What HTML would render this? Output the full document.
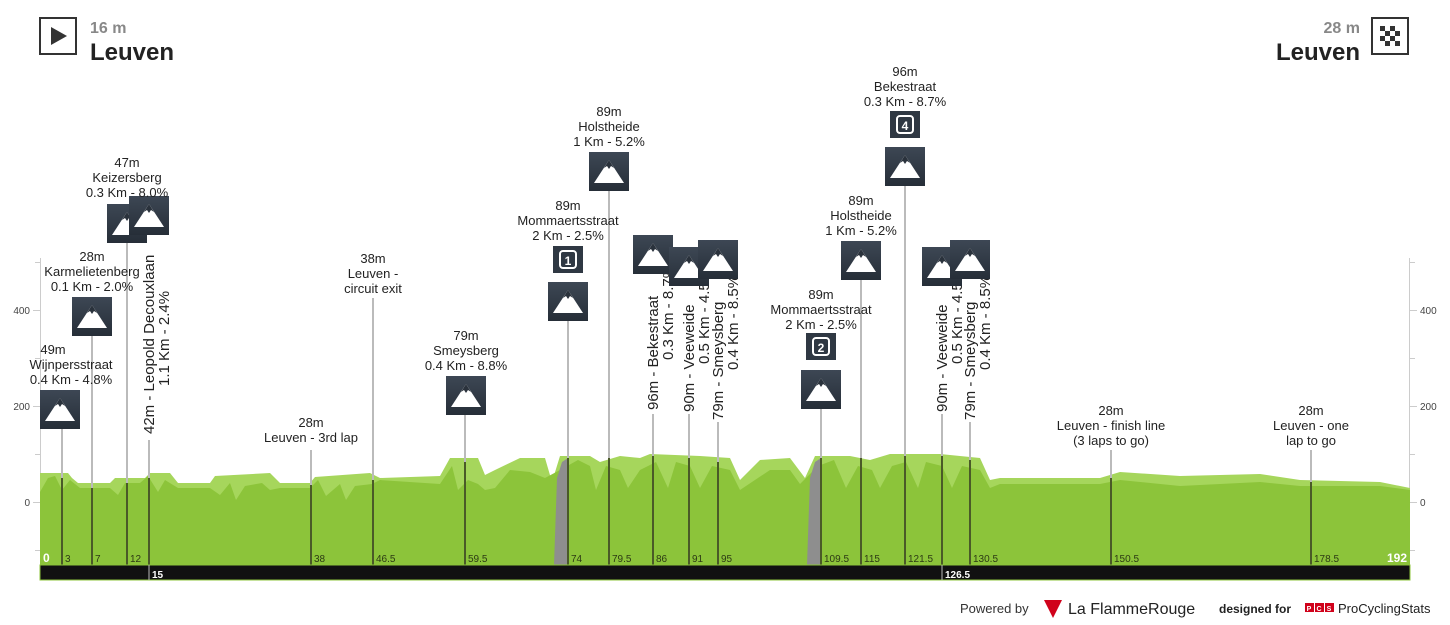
<!DOCTYPE html>
<html><head><meta charset="utf-8"><style>
body{margin:0;background:#fff;}
svg{display:block;font-family:"Liberation Sans",sans-serif;}
</style></head><body>
<svg width="1450" height="625" viewBox="0 0 1450 625" xmlns="http://www.w3.org/2000/svg">
<defs>
<linearGradient id="ig" x1="0" y1="0" x2="0" y2="1"><stop offset="0" stop-color="#3d4754"/><stop offset="1" stop-color="#262e38"/></linearGradient>
<g id="ic"><rect x="-20" y="0" width="40" height="39" fill="url(#ig)"/><path d="M0 8 L15 31 L-15 31 Z" fill="#fff"/><path d="M0 8 L5 16 L2 14 L0 17 L-2 14 L-5 16 Z" fill="#2a323c"/></g>
</defs>
<!-- header -->
<rect x="40" y="18" width="36" height="36" fill="#fff" stroke="#333" stroke-width="2"/>
<path d="M51 27 L67 36 L51 45 Z" fill="#333"/>
<text x="90" y="33" font-size="16" font-weight="bold" fill="#888">16 m</text>
<text x="90" y="60" font-size="24" font-weight="bold" fill="#222">Leuven</text>
<rect x="1372" y="18" width="36" height="36" fill="#fff" stroke="#333" stroke-width="2"/>
<g fill="#333"><rect x="1380" y="26" width="5" height="5"/><rect x="1390" y="26" width="5" height="5"/><rect x="1385" y="31" width="5" height="5"/><rect x="1395" y="31" width="5" height="5"/><rect x="1380" y="36" width="5" height="5"/><rect x="1390" y="36" width="5" height="5"/><rect x="1385" y="41" width="5" height="5"/><rect x="1395" y="41" width="5" height="5"/></g>
<text x="1360" y="33" font-size="16" font-weight="bold" fill="#888" text-anchor="end">28 m</text>
<text x="1360" y="60" font-size="24" font-weight="bold" fill="#222" text-anchor="end">Leuven</text>
<!-- axes -->
<g stroke="#ccc" stroke-width="1">
<line x1="40.5" y1="258" x2="40.5" y2="565"/><line x1="1409.5" y1="258" x2="1409.5" y2="565"/>
<line x1="33" y1="310.5" x2="40" y2="310.5"/><line x1="33" y1="406.5" x2="40" y2="406.5"/><line x1="33" y1="502.5" x2="40" y2="502.5"/>
<line x1="35" y1="262.5" x2="40" y2="262.5"/><line x1="35" y1="358.5" x2="40" y2="358.5"/><line x1="35" y1="454.5" x2="40" y2="454.5"/><line x1="35" y1="550.5" x2="40" y2="550.5"/>
<line x1="1410" y1="310.5" x2="1417" y2="310.5"/><line x1="1410" y1="406.5" x2="1417" y2="406.5"/><line x1="1410" y1="502.5" x2="1417" y2="502.5"/>
<line x1="1410" y1="262.5" x2="1415" y2="262.5"/><line x1="1410" y1="358.5" x2="1415" y2="358.5"/><line x1="1410" y1="454.5" x2="1415" y2="454.5"/><line x1="1410" y1="550.5" x2="1415" y2="550.5"/>
</g>
<g font-size="10" fill="#444">
<text x="30" y="314" text-anchor="end">400</text><text x="30" y="410" text-anchor="end">200</text><text x="30" y="506" text-anchor="end">0</text>
<text x="1420" y="314">400</text><text x="1420" y="410">200</text><text x="1420" y="506">0</text>
</g>
<!-- profile -->
<path fill="#a6d65c" d="M40 565 L40 473 L68 473 L72 478 L78 483 L110 483 L115 478 L145 478 L150 473 L170 473 L178 483 L210 483 L215 476 L270 473 L280 483 L310 483 L315 477 L370 473 L380 478 L440 476 L450 458 L478 458 L485 475 L495 470 L520 458 L545 458 L552 482 L560 456 L590 456 L600 462 L620 456 L640 458 L650 454 L700 456 L730 458 L740 480 L760 460 L790 458 L805 478 L815 456 L850 456 L870 460 L890 454 L940 454 L980 458 L990 480 L1000 478 L1100 478 L1120 472 L1180 476 L1260 474 L1300 480 L1380 482 L1410 488 L1410 565 Z"/>
<path fill="#8cc43a" d="M40 565 L40 492 L48 478 L55 476 L62 490 L70 480 L80 488 L110 488 L118 495 L125 483 L140 483 L148 476 L158 492 L165 480 L178 488 L210 488 L220 495 L230 483 L236 500 L245 486 L262 483 L270 490 L280 488 L310 488 L318 480 L326 496 L340 484 L346 500 L355 486 L372 484 L380 480 L440 484 L452 466 L458 490 L468 480 L478 484 L485 490 L495 488 L510 470 L530 472 L545 478 L560 470 L578 460 L590 466 L596 490 L606 466 L620 470 L628 488 L640 470 L656 462 L668 488 L676 462 L690 466 L700 488 L712 466 L730 470 L740 490 L770 470 L790 470 L800 484 L818 466 L834 460 L846 488 L858 466 L872 470 L880 488 L892 466 L906 462 L918 488 L926 462 L942 466 L952 488 L962 466 L980 470 L990 488 L1000 484 L1100 484 L1120 480 L1180 486 L1260 482 L1300 486 L1380 486 L1410 490 L1410 565 Z"/>
<path fill="#8e8e8e" d="M554 565 L557 478 L562 462 L568 458 L568 565 Z"/>
<path fill="#8e8e8e" d="M807 565 L810 478 L815 462 L821 458 L821 565 Z"/>
<!-- marker lines -->
<g stroke="#bbb" stroke-width="2">
<line x1="62" y1="428" x2="62" y2="478"/><line x1="92" y1="334" x2="92" y2="488"/><line x1="127" y1="240" x2="127" y2="483"/><line x1="149" y1="440" x2="149" y2="478"/>
<line x1="311" y1="450" x2="311" y2="485"/><line x1="373" y1="298" x2="373" y2="480"/><line x1="465" y1="412" x2="465" y2="462"/>
<line x1="568" y1="318" x2="568" y2="458"/><line x1="609" y1="190" x2="609" y2="458"/><line x1="653" y1="414" x2="653" y2="456"/><line x1="689" y1="414" x2="689" y2="458"/><line x1="718" y1="422" x2="718" y2="462"/>
<line x1="821" y1="408" x2="821" y2="458"/><line x1="861" y1="278" x2="861" y2="458"/><line x1="905" y1="186" x2="905" y2="456"/><line x1="942" y1="414" x2="942" y2="456"/><line x1="970" y1="422" x2="970" y2="460"/>
<line x1="1111" y1="450" x2="1111" y2="478"/><line x1="1311" y1="450" x2="1311" y2="482"/>
</g>
<g stroke="#4a5a28" stroke-width="2">
<line x1="62" y1="478" x2="62" y2="565"/><line x1="92" y1="488" x2="92" y2="565"/><line x1="127" y1="483" x2="127" y2="565"/><line x1="149" y1="478" x2="149" y2="565"/>
<line x1="311" y1="485" x2="311" y2="565"/><line x1="373" y1="480" x2="373" y2="565"/><line x1="465" y1="462" x2="465" y2="565"/>
<line x1="568" y1="458" x2="568" y2="565"/><line x1="609" y1="458" x2="609" y2="565"/><line x1="653" y1="456" x2="653" y2="565"/><line x1="689" y1="458" x2="689" y2="565"/><line x1="718" y1="462" x2="718" y2="565"/>
<line x1="821" y1="458" x2="821" y2="565"/><line x1="861" y1="458" x2="861" y2="565"/><line x1="905" y1="456" x2="905" y2="565"/><line x1="942" y1="456" x2="942" y2="565"/><line x1="970" y1="460" x2="970" y2="565"/>
<line x1="1111" y1="478" x2="1111" y2="565"/><line x1="1311" y1="482" x2="1311" y2="565"/>
</g>
<!-- bottom bar -->
<rect x="40" y="565" width="1370" height="15" fill="#111" stroke="#8cc43a" stroke-width="1"/>
<line x1="149" y1="565" x2="149" y2="580" stroke="#bbb"/><line x1="942" y1="565" x2="942" y2="580" stroke="#bbb"/>
<g font-size="10" font-weight="bold" fill="#fff"><text x="152" y="578">15</text><text x="945" y="578">126.5</text>
<text x="43" y="562" font-size="12">0</text><text x="1407" y="562" font-size="12" text-anchor="end">192</text></g>
<g font-size="10" fill="#2c3a14">
<text x="65" y="562">3</text><text x="95" y="562">7</text><text x="130" y="562">12</text><text x="314" y="562">38</text><text x="376" y="562">46.5</text><text x="468" y="562">59.5</text>
<text x="571" y="562">74</text><text x="612" y="562">79.5</text><text x="656" y="562">86</text><text x="692" y="562">91</text><text x="721" y="562">95</text>
<text x="824" y="562">109.5</text><text x="864" y="562">115</text><text x="908" y="562">121.5</text><text x="973" y="562">130.5</text><text x="1114" y="562">150.5</text><text x="1314" y="562">178.5</text>
</g>
<!-- vertical labels -->
<g font-size="15" fill="#222">
<text transform="translate(154,434) rotate(-90)">42m - Leopold Decouxlaan</text>
<text transform="translate(169,386) rotate(-90)">1.1 Km - 2.4%</text>
<text transform="translate(658,410) rotate(-90)">96m - Bekestraat</text>
<text transform="translate(673,360) rotate(-90)">0.3 Km - 8.7%</text>
<text transform="translate(694,412) rotate(-90)">90m - Veeweide</text>
<text transform="translate(709,364) rotate(-90)">0.5 Km - 4.5%</text>
<text transform="translate(723,420) rotate(-90)">79m - Smeysberg</text>
<text transform="translate(738,370) rotate(-90)">0.4 Km - 8.5%</text>
<text transform="translate(947,412) rotate(-90)">90m - Veeweide</text>
<text transform="translate(962,364) rotate(-90)">0.5 Km - 4.5%</text>
<text transform="translate(975,420) rotate(-90)">79m - Smeysberg</text>
<text transform="translate(990,370) rotate(-90)">0.4 Km - 8.5%</text>
</g>
<!-- icons -->
<use href="#ic" x="60" y="390"/><use href="#ic" x="92" y="297"/><use href="#ic" x="127" y="204"/><use href="#ic" x="149" y="196"/>
<use href="#ic" x="466" y="376"/><use href="#ic" x="568" y="282"/><use href="#ic" x="609" y="152"/>
<use href="#ic" x="653" y="235"/><use href="#ic" x="689" y="247"/><use href="#ic" x="718" y="240"/>
<use href="#ic" x="821" y="370"/><use href="#ic" x="861" y="241"/><use href="#ic" x="905" y="147"/><use href="#ic" x="942" y="247"/><use href="#ic" x="970" y="240"/>
<!-- badges -->
<g><rect x="553" y="246" width="30" height="27" fill="#2f3843"/><rect x="560" y="251" width="16" height="17" rx="3" fill="none" stroke="#fff" stroke-width="2"/><text x="568" y="265" font-size="12" font-weight="bold" fill="#fff" text-anchor="middle">1</text></g>
<g><rect x="806" y="333" width="30" height="27" fill="#2f3843"/><rect x="813" y="338" width="16" height="17" rx="3" fill="none" stroke="#fff" stroke-width="2"/><text x="821" y="352" font-size="12" font-weight="bold" fill="#fff" text-anchor="middle">2</text></g>
<g><rect x="890" y="111" width="30" height="27" fill="#2f3843"/><rect x="897" y="116" width="16" height="17" rx="3" fill="none" stroke="#fff" stroke-width="2"/><text x="905" y="130" font-size="12" font-weight="bold" fill="#fff" text-anchor="middle">4</text></g>
<!-- labels -->
<g font-size="13" fill="#222" text-anchor="middle">
<text x="53" y="354">49m</text><text x="71" y="369">Wijnpersstraat</text><text x="71" y="384">0.4 Km - 4.8%</text>
<text x="92" y="261">28m</text><text x="92" y="276">Karmelietenberg</text><text x="92" y="291">0.1 Km - 2.0%</text>
<text x="127" y="167">47m</text><text x="127" y="182">Keizersberg</text><text x="127" y="197">0.3 Km - 8.0%</text>
<text x="311" y="427">28m</text><text x="311" y="442">Leuven - 3rd lap</text>
<text x="373" y="263">38m</text><text x="373" y="278">Leuven -</text><text x="373" y="293">circuit exit</text>
<text x="466" y="340">79m</text><text x="466" y="355">Smeysberg</text><text x="466" y="370">0.4 Km - 8.8%</text>
<text x="568" y="210">89m</text><text x="568" y="225">Mommaertsstraat</text><text x="568" y="240">2 Km - 2.5%</text>
<text x="609" y="116">89m</text><text x="609" y="131">Holstheide</text><text x="609" y="146">1 Km - 5.2%</text>
<text x="821" y="299">89m</text><text x="821" y="314">Mommaertsstraat</text><text x="821" y="329">2 Km - 2.5%</text>
<text x="861" y="205">89m</text><text x="861" y="220">Holstheide</text><text x="861" y="235">1 Km - 5.2%</text>
<text x="905" y="76">96m</text><text x="905" y="91">Bekestraat</text><text x="905" y="106">0.3 Km - 8.7%</text>
<text x="1111" y="415">28m</text><text x="1111" y="430">Leuven - finish line</text><text x="1111" y="445">(3 laps to go)</text>
<text x="1311" y="415">28m</text><text x="1311" y="430">Leuven - one</text><text x="1311" y="445">lap to go</text>
</g>
<!-- footer -->
<text x="960" y="613" font-size="13" fill="#333">Powered by</text>
<path d="M1044 600 L1062 600 L1053 618 Z" fill="#d0021b"/>
<text x="1068" y="614" font-size="16" fill="#222">La FlammeRouge</text>
<text x="1219" y="613" font-size="12" font-weight="bold" fill="#222">designed for</text>
<rect x="1305" y="603" width="9" height="9" fill="#d0021b"/><rect x="1315" y="603" width="9" height="9" fill="#d0021b"/><rect x="1325" y="603" width="9" height="9" fill="#d0021b"/>
<text x="1309" y="611" font-size="7" fill="#fff" text-anchor="middle" font-weight="bold">P</text><text x="1319" y="611" font-size="7" fill="#fff" text-anchor="middle" font-weight="bold">C</text><text x="1329" y="611" font-size="7" fill="#fff" text-anchor="middle" font-weight="bold">S</text>
<text x="1338" y="613" font-size="13" fill="#222">ProCyclingStats</text>
</svg>
</body></html>
